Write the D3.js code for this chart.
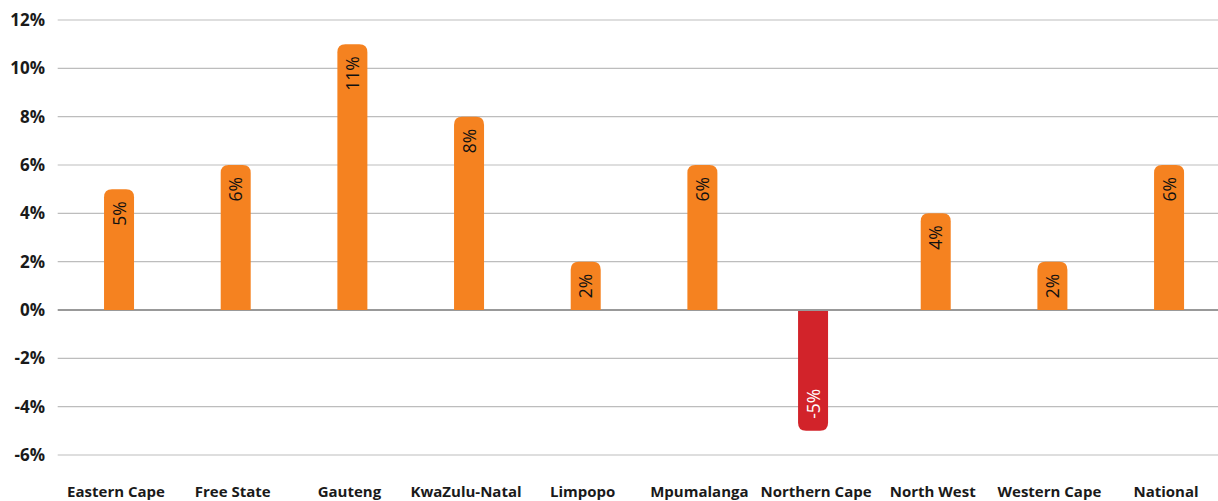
<!DOCTYPE html>
<html>
<head>
<meta charset="utf-8">
<script src="https://cdn.jsdelivr.net/npm/d3@7/dist/d3.min.js"></script>
<style>
  html, body { margin: 0; padding: 0; background: #fff; }
  svg { display: block; }
  .tick-label { font-family: "Open Sans", sans-serif; font-weight: 700; font-size: 17px; fill: #1a1a1a; }
  .cat-label { font-family: "Open Sans", sans-serif; font-weight: 700; font-size: 15px; fill: #1a1a1a; }
  .val-label { font-family: "Open Sans", sans-serif; font-size: 17.5px; }
</style>
</head>
<body>
<svg id="chart" width="1218" height="501"></svg>
<script>
// Provinces and national figure
const categories = ["Eastern Cape", "Free State", "Gauteng", "KwaZulu-Natal", "Limpopo",
                    "Mpumalanga", "Northern Cape", "North West", "Western Cape", "National"];
const values = [5, 6, 11, 8, 2, 6, -5, 4, 2, 6];
const yTicks = [12, 10, 8, 6, 4, 2, 0, -2, -4, -6];
// Two overlapping series: declines and growth
const seriesNames = ["decline", "growth"];

const svg = d3.select("#chart");

const x = d3.scaleBand()
  .domain(categories)
  .range([57.7, 1224.4]);

// Offset of each series inside its category (heavily overlapped clusters)
const xs = d3.scalePoint()
  .domain(seriesNames)
  .range([-3, 3]);

const bw = 30;

const y = d3.scaleLinear()
  .domain([-6, 12])
  .range([455, 20]);

// Horizontal grid lines
svg.append("g")
  .selectAll("line")
  .data(yTicks)
  .join("line")
  .attr("x1", x.range()[0])
  .attr("x2", 1218)
  .attr("y1", d => y(d))
  .attr("y2", d => y(d))
  .attr("stroke", d => d === 0 ? "#999" : "#bdbdbd")
  .attr("stroke-width", d => d === 0 ? 1.8 : 1.2);

// Y tick labels
svg.append("g")
  .selectAll("text")
  .data(yTicks)
  .join("text")
  .attr("class", "tick-label")
  .attr("x", 45)
  .attr("y", d => y(d))
  .attr("dy", "0.35em")
  .attr("text-anchor", "end")
  .text(d => d + "%");

// Bar with rounded corners on its far end only
function barPath(cx, w, v) {
  const x0 = cx - w / 2, x1 = cx + w / 2;
  const yb = y(0), yt = y(v);
  const r = Math.min(8, Math.abs(yt - yb));
  if (v >= 0) {
    return `M${x0},${yb} L${x0},${yt + r} Q${x0},${yt} ${x0 + r},${yt} L${x1 - r},${yt} Q${x1},${yt} ${x1},${yt + r} L${x1},${yb} Z`;
  }
  return `M${x0},${yb + 1} L${x0},${yt - r} Q${x0},${yt} ${x0 + r},${yt} L${x1 - r},${yt} Q${x1},${yt} ${x1},${yt - r} L${x1},${yb + 1} Z`;
}

const data = categories.map((c, i) => ({
  c,
  v: values[i],
  s: values[i] < 0 ? "decline" : "growth"
}));
const cxOf = d => x(d.c) + x.bandwidth() / 2 + xs(d.s);

const bars = svg.append("g")
  .selectAll("g")
  .data(data)
  .join("g");

bars.append("path")
  .attr("d", d => barPath(cxOf(d), bw, d.v))
  .attr("fill", d => d.v >= 0 ? "#F58220" : "#D2232A");

// Value labels, rotated, inside the bar at its far end
bars.append("text")
  .attr("class", "val-label")
  .attr("transform", d => {
    const yy = d.v >= 0 ? y(d.v) + 12 : y(d.v) - 12;
    return `translate(${cxOf(d) + 6.5},${yy}) rotate(-90)`;
  })
  .attr("text-anchor", d => d.v >= 0 ? "end" : "start")
  .attr("fill", d => d.v >= 0 ? "#111" : "#fff")
  .text(d => d.v + "%");

// Category labels
svg.append("g")
  .selectAll("text")
  .data(categories)
  .join("text")
  .attr("class", "cat-label")
  .attr("x", d => x(d) + x.bandwidth() / 2)
  .attr("y", 497)
  .attr("text-anchor", "middle")
  .text(d => d);
</script>
</body>
</html>
